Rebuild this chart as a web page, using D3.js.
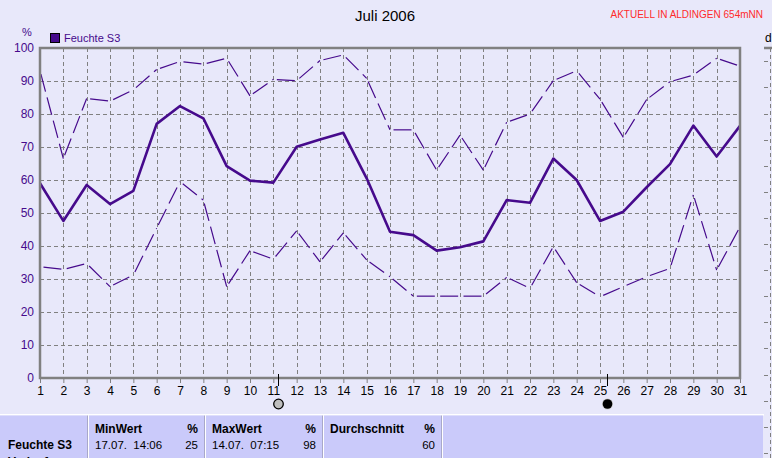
<!DOCTYPE html>
<html><head><meta charset="utf-8">
<script src="https://cdn.jsdelivr.net/npm/d3@7"></script>
<style>
html,body{margin:0;padding:0;background:#E8E8FA;}
svg{display:block;font-family:"Liberation Sans",Arial,sans-serif;}
</style></head>
<body>
<script>
const days = d3.range(1, 32);
const meanVals = [59,47.6,58.5,52.7,56.7,77,82.4,78.7,64.2,59.8,59.2,70.1,72.3,74.3,60.5,44.3,43.3,38.6,39.6,41.4,53.9,53.1,66.5,60,47.6,50.4,57.8,64.8,76.5,67.1,76.4];
const maxVals  = [93.1,66.5,84.7,83.9,87.3,93.5,95.9,95.1,96.9,85.5,90.5,90.1,96.2,97.9,90.8,75.2,75.2,63,73.6,63,77.5,80,90.1,93.1,84.5,72.9,84.4,89.8,91.8,96.9,94.5];
const minVals  = [33.7,32.9,34.7,27.7,31.2,45.4,59.5,53.9,27.7,38.6,36,44.6,35.2,44,35.8,30.7,24.8,24.8,24.8,24.8,30.5,27.2,39.8,28.9,24.6,27.7,30.7,33.2,55.5,32.7,45.8];
const yTicks = d3.range(0, 101, 10);
const moonPhases = [{day: 11.21, type: "full"}, {day: 25.29, type: "new"}];
const title = "Juli 2006";
const station = "AKTUELL IN ALDINGEN 654mNN";
const seriesName = "Feuchte S3";
const unit = "%";
const tableCols = [
  {head: "MinWert", unit: "%", when: "17.07.  14:06", val: "25"},
  {head: "MaxWert", unit: "%", when: "14.07.  07:15", val: "98"},
  {head: "Durchschnitt", unit: "%", when: "", val: "60"}
];

const W = 772, H = 458;
const lineColor = "#460A8C";
const gridColor = "#808080";
const svg = d3.select("body").append("svg").attr("width", W).attr("height", H);
svg.append("rect").attr("width", W).attr("height", H).attr("fill", "#E8E8FA");

const x = d3.scaleLinear().domain([1, 31]).range([40, 740]);
const y = d3.scaleLinear().domain([0, 100]).range([378, 48]);

// title texts
svg.append("text").attr("x", 385).attr("y", 21).attr("text-anchor", "middle")
  .attr("font-size", 15).attr("fill", "#000").text(title);
svg.append("text").attr("x", 763).attr("y", 18).attr("text-anchor", "end")
  .attr("font-size", 10).attr("fill", "#FF2A2A").text(station);

// legend
svg.append("text").attr("x", 22).attr("y", 36).attr("font-size", 11).attr("fill", lineColor).text(unit);
svg.append("rect").attr("x", 50.5).attr("y", 33.5).attr("width", 9).attr("height", 9)
  .attr("fill", lineColor).attr("stroke", "#000").attr("stroke-width", 1);
svg.append("text").attr("x", 64).attr("y", 42).attr("font-size", 11).attr("fill", lineColor).text(seriesName);

// grid
const g = svg.append("g");
g.selectAll(".vg").data(days.slice(1, 30)).enter().append("line")
  .attr("x1", d => Math.round(x(d)) + 0.5).attr("x2", d => Math.round(x(d)) + 0.5)
  .attr("y1", y(100)).attr("y2", y(0))
  .attr("stroke", gridColor).attr("stroke-width", 1).attr("stroke-dasharray", "4,3");
g.selectAll(".hg").data(yTicks.slice(1, 10)).enter().append("line")
  .attr("x1", x(1)).attr("x2", x(31))
  .attr("y1", d => Math.round(y(d)) + 0.5).attr("y2", d => Math.round(y(d)) + 0.5)
  .attr("stroke", gridColor).attr("stroke-width", 1).attr("stroke-dasharray", "4,3");

// axes
const xAxis = d3.axisBottom(x).tickValues(days).tickSize(5).tickPadding(3).tickFormat(d3.format("d"));
const xa = svg.append("g").attr("transform", `translate(0,${y(0)})`).call(xAxis);
xa.select(".domain").remove();
xa.selectAll("line").attr("stroke", gridColor).attr("stroke-width", 1);
xa.selectAll("text").attr("font-size", 12).attr("fill", "#000").attr("font-family", "Liberation Sans, Arial, sans-serif");

const yAxis = d3.axisLeft(y).tickValues(yTicks).tickSize(0).tickPadding(6);
const ya = svg.append("g").attr("transform", `translate(${x(1)},0)`).call(yAxis);
ya.select(".domain").remove();
ya.selectAll("text").attr("font-size", 12).attr("fill", lineColor).attr("font-family", "Liberation Sans, Arial, sans-serif");

// data lines: dashed min/max drawn per segment (pattern restarts each day)
const segLine = d3.line().x(d => x(d.day)).y(d => y(d.v));
function dashedSeries(vals) {
  const segs = d3.pairs(vals.map((v, i) => ({day: days[i], v: v})));
  svg.append("g").selectAll("path").data(segs).enter().append("path")
    .attr("d", d => segLine(d)).attr("fill", "none")
    .attr("stroke", lineColor).attr("stroke-width", 1.2)
    .attr("stroke-dasharray", "18,6").attr("stroke-dashoffset", 20.5);
}
dashedSeries(maxVals);
dashedSeries(minVals);
const lineGen = vals => d3.line().x((d, i) => x(days[i])).y(d => y(d))(vals);
svg.append("path").attr("d", lineGen(meanVals)).attr("fill", "none")
  .attr("stroke", lineColor).attr("stroke-width", 2.6).attr("stroke-linejoin", "round");

// frame
svg.append("path")
  .attr("d", `M${x(1)},${y(0)} L${x(1)},${y(100)} L${x(31)},${y(100)} L${x(31)},${y(0)} Z`)
  .attr("fill", "none").attr("stroke", gridColor).attr("stroke-width", 2.5);

// moon phases
moonPhases.forEach(m => {
  const mx = Math.round(x(m.day)) + 0.5;
  svg.append("line").attr("x1", mx).attr("x2", mx).attr("y1", 374).attr("y2", 386)
    .attr("stroke", "#000").attr("stroke-width", 1);
  if (m.type === "full") {
    svg.append("circle").attr("cx", mx).attr("cy", 404).attr("r", 4.8)
      .attr("fill", "#BEBEBE").attr("stroke", "#000").attr("stroke-width", 1.3);
  } else {
    svg.append("circle").attr("cx", mx).attr("cy", 404).attr("r", 5.5)
      .attr("fill", "#C8C8C8");
    svg.append("circle").attr("cx", mx).attr("cy", 404).attr("r", 4.8)
      .attr("fill", "#000");
  }
});

// right strip (neighbouring chart)
svg.append("line").attr("x1", 764).attr("x2", 772).attr("y1", 48).attr("y2", 48)
  .attr("stroke", gridColor).attr("stroke-width", 2.5);
svg.append("line").attr("x1", 770.5).attr("x2", 770.5).attr("y1", 48).attr("y2", 458)
  .attr("stroke", gridColor).attr("stroke-width", 1).attr("stroke-dasharray", "4,3");
svg.selectAll(".rt").data(d3.range(0, 16)).enter().append("line")
  .attr("x1", 764).attr("x2", 768)
  .attr("y1", d => Math.round(61.3 + d * 26.1) + 0.5).attr("y2", d => Math.round(61.3 + d * 26.1) + 0.5)
  .attr("stroke", gridColor).attr("stroke-width", 1);
svg.append("text").attr("x", 765).attr("y", 42).attr("font-size", 12).attr("fill", "#000").text("d");

// table
const tbl = svg.append("g");
tbl.append("rect").attr("x", 0).attr("y", 414).attr("width", 764).attr("height", 1.5).attr("fill", "#FFFFFF");
const cellEdges = [[0, 87], [89, 204], [206, 322], [324, 441], [443, 763]];
cellEdges.forEach(c => {
  tbl.append("rect").attr("x", c[0]).attr("y", 415.5).attr("width", c[1] - c[0]).attr("height", 43)
    .attr("fill", "#CACAFA");
});
cellEdges.slice(1).forEach(c => {
  tbl.append("rect").attr("x", c[0] - 2).attr("y", 415.5).attr("width", 1).attr("height", 43).attr("fill", "#A8A8C8");
  tbl.append("rect").attr("x", c[0] - 1).attr("y", 415.5).attr("width", 1).attr("height", 43).attr("fill", "#FFFFFF");
});
tbl.append("text").attr("x", 8).attr("y", 449).attr("font-size", 12).attr("font-weight", "bold").attr("fill", "#000").text(seriesName);
tbl.append("text").attr("x", 8).attr("y", 466).attr("font-size", 12).attr("font-weight", "bold").attr("fill", "#000").text("Verlauf");
tableCols.forEach((c, i) => {
  const left = cellEdges[i + 1][0] + 6;
  const right = cellEdges[i + 1][1] - 6;
  tbl.append("text").attr("x", left).attr("y", 433).attr("font-size", 12).attr("font-weight", "bold").attr("fill", "#000").text(c.head);
  tbl.append("text").attr("x", right).attr("y", 433).attr("text-anchor", "end").attr("font-size", 12).attr("font-weight", "bold").attr("fill", "#000").text(c.unit);
  tbl.append("text").attr("x", left).attr("y", 449).attr("font-size", 11.5).attr("fill", "#000").style("white-space", "pre").text(c.when);
  tbl.append("text").attr("x", right).attr("y", 449).attr("text-anchor", "end").attr("font-size", 11.5).attr("fill", "#000").text(c.val);
});
</script>
</body></html>
